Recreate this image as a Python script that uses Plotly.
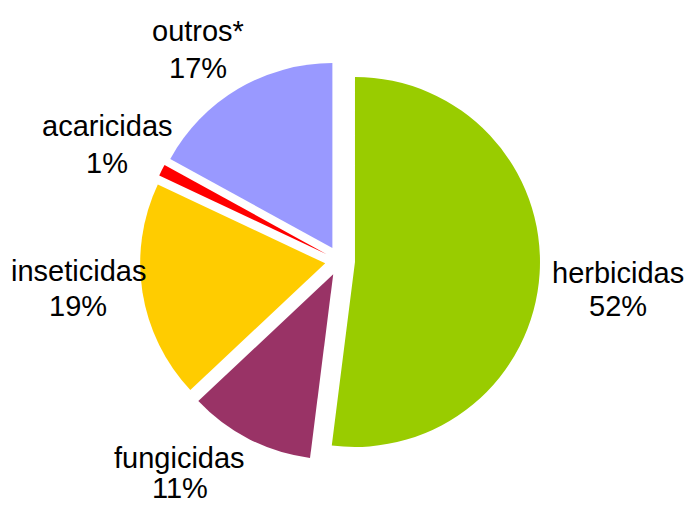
import plotly.graph_objects as go

# Share of pesticide sales by class (%)
categories = ["herbicidas", "fungicidas", "inseticidas", "acaricidas", "outros*"]
shares = [52, 11, 19, 1, 17]
colors = ["#99CC00", "#993366", "#FFCC00", "#FF0000", "#9999FF"]

W, H = 686, 505
FONT = dict(family="Liberation Sans, Arial, sans-serif", size=29, color="#000000")

fig = go.Figure(
    go.Pie(
        labels=categories,
        values=shares,
        sort=False,
        direction="clockwise",
        rotation=0,
        pull=[0.081] * len(shares),
        marker=dict(colors=colors, line=dict(width=0)),
        textinfo="none",
        hoverinfo="label+percent",
        domain=dict(x=[0.2041, 0.7872], y=[0.0871, 0.8792]),
        showlegend=False,
    )
)

# Label placement (pixels): centre x, baseline of name line, baseline of percent line
label_pos = {
    "herbicidas": (618, 282, 315),
    "fungicidas": (180, 467, 497),
    "inseticidas": (78, 280, 315),
    "acaricidas": (107, 135, 172),
    "outros*": (198, 40, 77),
}

total = sum(shares)
for name, val in zip(categories, shares):
    cx, b1, b2 = label_pos[name]
    pct = f"{round(100 * val / total)}%"
    for text, base in ((name, b1), (pct, b2)):
        fig.add_annotation(
            x=cx / W,
            y=1 - (base - 9.5) / H,
            xref="paper",
            yref="paper",
            text=text,
            showarrow=False,
            xanchor="center",
            yanchor="middle",
            font=FONT,
        )

fig.update_layout(
    width=W,
    height=H,
    margin=dict(l=0, r=0, t=0, b=0),
    paper_bgcolor="white",
    plot_bgcolor="white",
)

fig.write_html("out.html")
